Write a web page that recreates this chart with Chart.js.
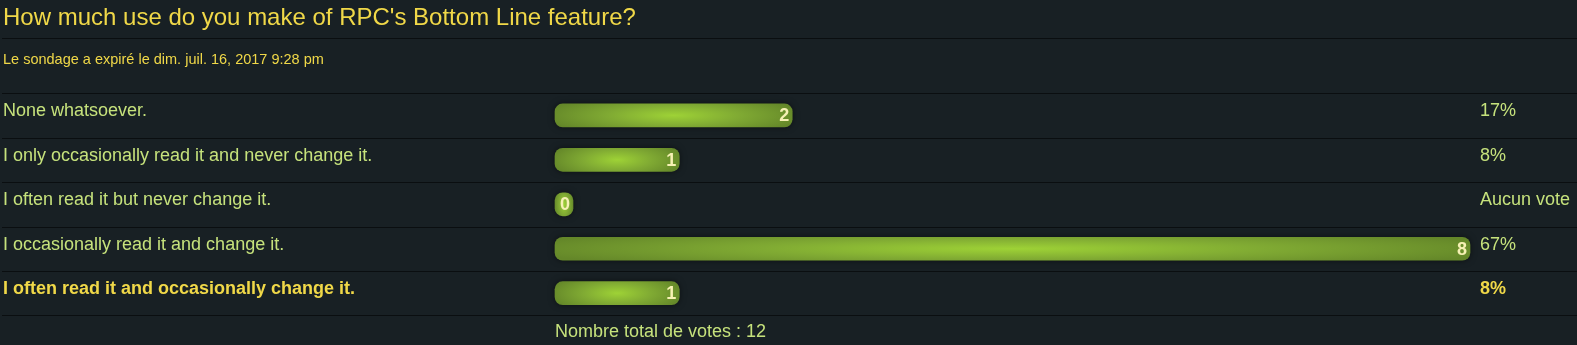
<!DOCTYPE html>
<html>
<head>
<meta charset="utf-8">
<title>Poll results</title>
<script src="https://cdn.jsdelivr.net/npm/chart.js@4/dist/chart.umd.min.js"></script>
<style>
  html, body { margin: 0; padding: 0; background: #182024; }
  #pollWrap { position: relative; width: 1577px; height: 345px; }
</style>
</head>
<body>
<div id="pollWrap"><canvas id="pollChart"></canvas></div>
<script>
"use strict";

// poll data
const pollQuestion = "How much use do you make of RPC's Bottom Line feature?";
const pollExpiry = "Le sondage a expiré le dim. juil. 16, 2017 9:28 pm";
const pollOptions = [
  "None whatsoever.",
  "I only occasionally read it and never change it.",
  "I often read it but never change it.",
  "I occasionally read it and change it.",
  "I often read it and occasionally change it.",
];
const pollVotes = [2, 1, 0, 8, 1];
const pollPercents = ["17%", "8%", "Aucun vote", "67%", "8%"];
const myVoteIndex = 4; // the row shown in bold
const totalVotes = pollVotes.reduce((a, b) => a + b, 0);

// look
const RULE = "#0a0e10";
const TEXT_GREEN = "#c6e27c";
const TEXT_YELLOW = "#f0d848";
const VALUE_TEXT = "#f6f1b4";
const BAR_EDGE = "#648729";
const BAR_THICK = 23;
const MIN_BAR = 18;
const AXIS_START = -0.1; // phpBB bars carry a little fixed padding
const FONT = "'Liberation Sans', Arial, sans-serif";

Chart.defaults.font.family = FONT;

/**
 * Bar fill: an elliptical glow centred on each bar, handed to Chart.js
 * as a canvas pattern. Geometry comes from the chart's own scales.
 */
function barFill(ctx) {
  const chart = ctx.chart;
  const xs = chart.scales.x;
  const ys = chart.scales.y;
  if (ctx.type !== "data" || !xs || !ys || !chart.chartArea) return "#7ea632";

  const x0 = xs.getPixelForValue(AXIS_START);
  const x1 = Math.max(xs.getPixelForValue(ctx.raw), x0 + MIN_BAR);
  const yc = ys.getPixelForValue(ctx.dataIndex);

  const off = document.createElement("canvas");
  off.width = chart.width;
  off.height = chart.height;
  const g = off.getContext("2d");
  g.fillStyle = BAR_EDGE;
  g.fillRect(0, 0, off.width, off.height);
  g.translate((x0 + x1) / 2, yc);
  g.scale(((x1 - x0) / 2) * 1.1, BAR_THICK * 0.9);
  const grad = g.createRadialGradient(0, 0, 0, 0, 0, 1);
  grad.addColorStop(0, "#9ed236");
  grad.addColorStop(0.5, "#80aa33");
  grad.addColorStop(1, BAR_EDGE);
  g.fillStyle = grad;
  g.fillRect(-1, -1, 2, 2);
  return chart.ctx.createPattern(off, "no-repeat");
}

// horizontal rules under the title and between the rows
const rulesPlugin = {
  id: "pollRules",
  beforeDatasetsDraw(chart) {
    const { ctx, width } = chart;
    const ys = chart.scales.y;
    const step = (ys.bottom - ys.top) / pollOptions.length;
    const rows = [chart.titleBlock.bottom];
    for (let k = 0; k <= pollOptions.length; k++) rows.push(ys.top + k * step);
    ctx.save();
    ctx.fillStyle = RULE;
    rows.forEach((y) => ctx.fillRect(2, Math.round(y), width - 2, 1));
    ctx.restore();
  },
};

// soft dark halo around the bars
const glowPlugin = {
  id: "barGlow",
  beforeDatasetDraw(chart) {
    chart.ctx.save();
    chart.ctx.shadowColor = "rgba(0,0,0,0.5)";
    chart.ctx.shadowBlur = 6;
  },
  afterDatasetDraw(chart) {
    chart.ctx.restore();
  },
};

// vote count written inside the end of each bar
const countPlugin = {
  id: "voteCounts",
  afterDatasetsDraw(chart) {
    const ctx = chart.ctx;
    const meta = chart.getDatasetMeta(0);
    ctx.save();
    ctx.fillStyle = VALUE_TEXT;
    ctx.font = "bold 18px " + FONT;
    ctx.textAlign = "right";
    ctx.textBaseline = "middle";
    meta.data.forEach((bar, i) => {
      ctx.fillText(String(pollVotes[i]), bar.x - 3, bar.y + 1);
    });
    ctx.restore();
  },
};

const labelFont = (c) => ({
  family: FONT,
  size: 18,
  weight: c.index === myVoteIndex ? "bold" : "normal",
});
const labelColor = (c) => (c.index === myVoteIndex ? TEXT_YELLOW : TEXT_GREEN);

new Chart(document.getElementById("pollChart"), {
  type: "bar",
  data: {
    labels: pollOptions,
    datasets: [
      {
        data: pollVotes,
        base: AXIS_START,
        backgroundColor: barFill,
        borderRadius: 8,
        borderSkipped: false,
        barThickness: BAR_THICK,
        minBarLength: MIN_BAR,
        clip: false,
      },
    ],
  },
  options: {
    indexAxis: "y",
    responsive: true,
    maintainAspectRatio: false,
    animation: false,
    events: [],
    layout: { padding: { left: 3, right: 0, top: 0, bottom: 0 } },
    plugins: {
      legend: { display: false },
      tooltip: { enabled: false },
      title: {
        display: true,
        text: pollQuestion,
        align: "start",
        color: TEXT_YELLOW,
        font: { size: 24, weight: "normal" },
        padding: { top: 4, bottom: 5 },
      },
      subtitle: {
        display: true,
        text: pollExpiry,
        align: "start",
        color: TEXT_YELLOW,
        font: { size: 14.5, weight: "normal" },
        padding: { top: 13, bottom: 25 },
      },
    },
    scales: {
      x: {
        type: "linear",
        min: AXIS_START,
        max: Math.max(...pollVotes),
        grid: { display: false, drawTicks: false },
        border: { display: false },
        ticks: { display: false },
        title: {
          display: true,
          text: "Nombre total de votes : " + totalVotes,
          align: "start",
          color: TEXT_GREEN,
          font: { size: 18 },
          padding: { top: 6, bottom: 2 },
        },
      },
      y: {
        type: "category",
        offset: true,
        grid: { display: false, drawTicks: false },
        border: { display: false },
        ticks: {
          crossAlign: "far",
          padding: 0,
          labelOffset: -4,
          color: labelColor,
          font: labelFont,
        },
        afterFit(scale) {
          scale.width = 552;
        },
      },
      pct: {
        type: "category",
        axis: "y",
        position: "right",
        labels: pollPercents,
        offset: true,
        grid: { display: false, drawTicks: false },
        border: { display: false },
        ticks: {
          crossAlign: "near",
          padding: 10,
          labelOffset: -4,
          color: labelColor,
          font: labelFont,
        },
        afterFit(scale) {
          scale.width = 107;
        },
      },
    },
  },
  plugins: [rulesPlugin, glowPlugin, countPlugin],
});
</script>
</body>
</html>
